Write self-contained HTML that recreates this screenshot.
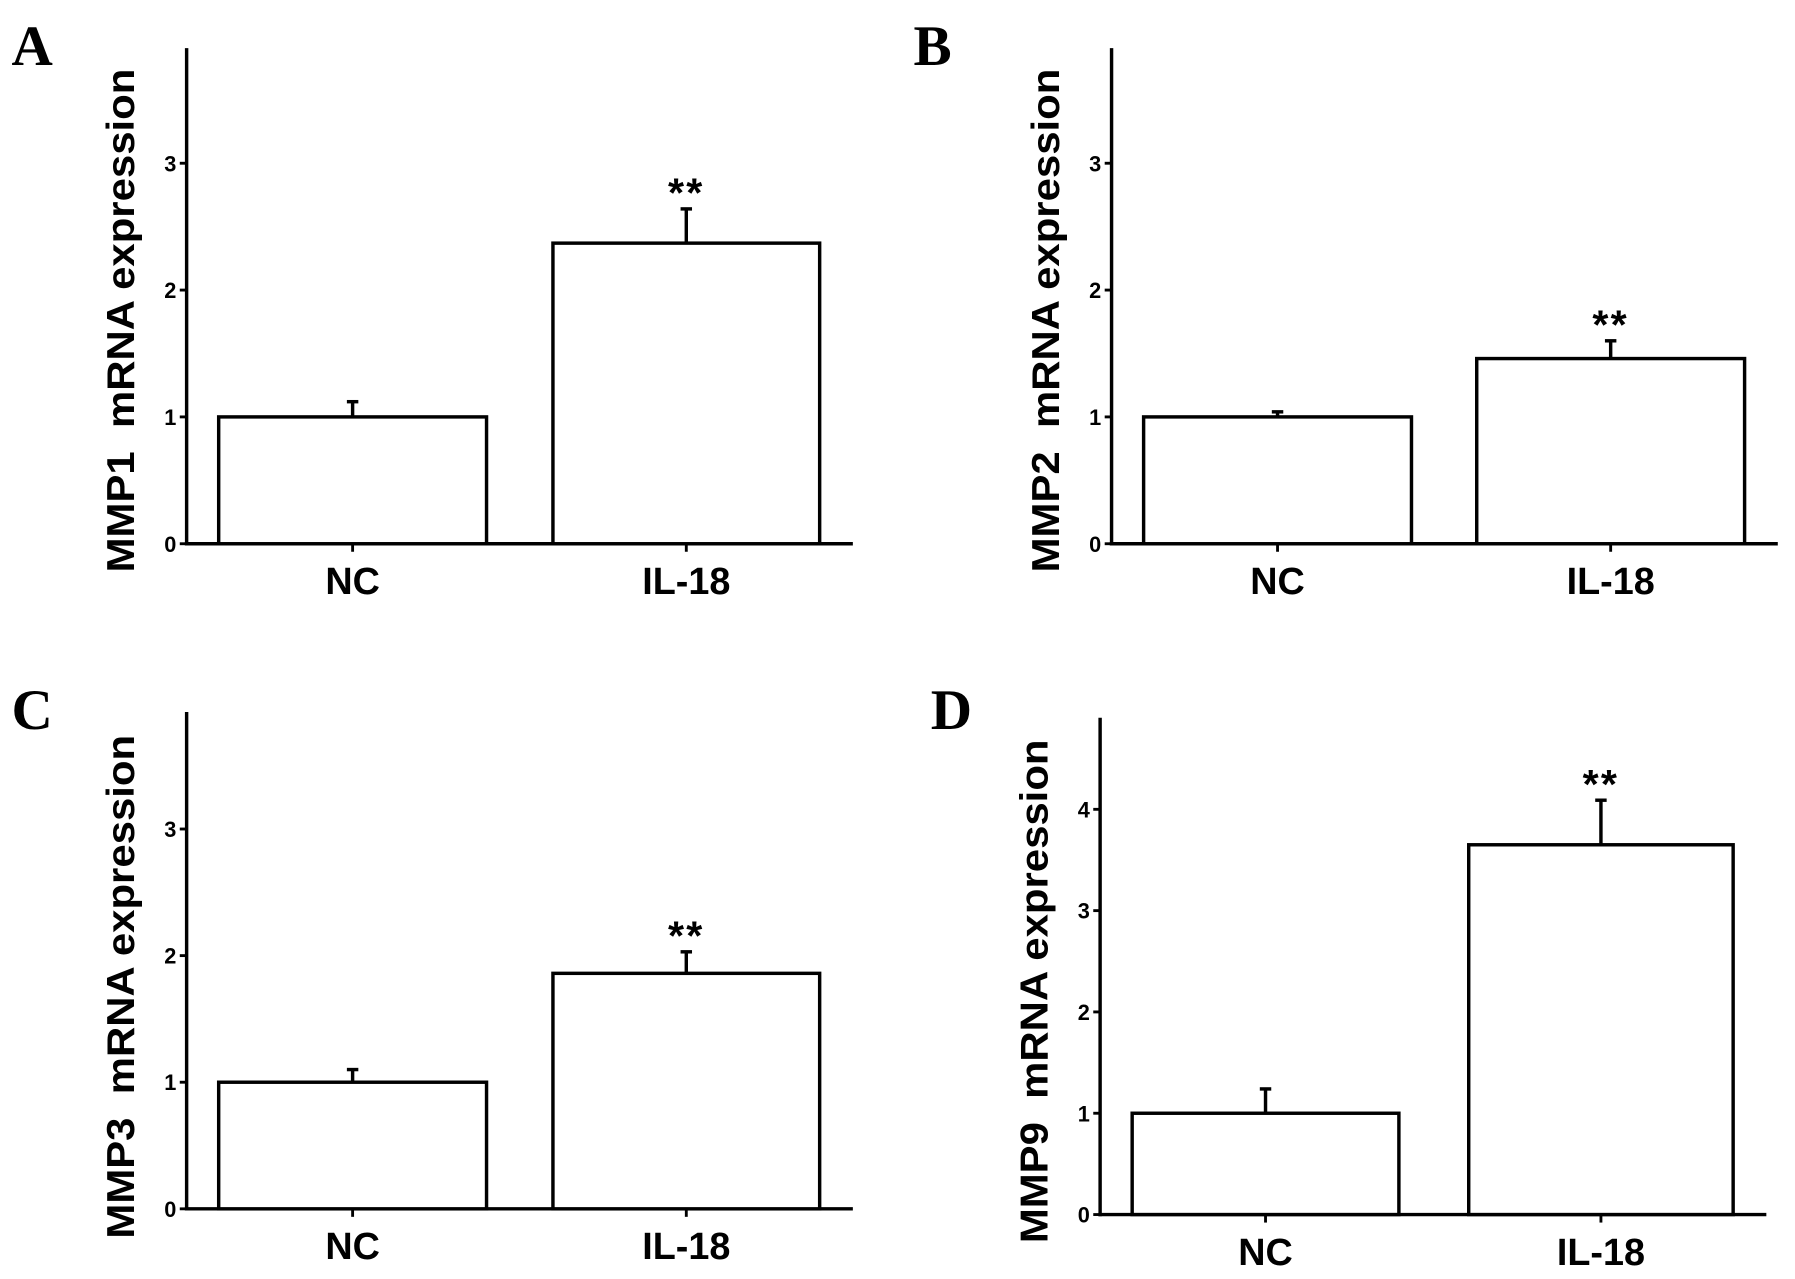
<!DOCTYPE html>
<html><head><meta charset="utf-8"><style>html,body{margin:0;padding:0;background:#fff}svg{display:block}</style></head>
<body>
<svg id="fig" width="1795" height="1279" viewBox="0 0 1568 1117.3" xmlns="http://www.w3.org/2000/svg"></svg>
<script>
const categories = ["NC", "IL-18"];
const panelLetters = ["A", "B", "C", "D"];
const genes = ["MMP1", "MMP2", "MMP3", "MMP9"];
const meanA = [1.0, 2.37];
const errA = [0.12, 0.27];
const meanB = [1.0, 1.46];
const errB = [0.04, 0.14];
const meanC = [1.0, 1.86];
const errC = [0.10, 0.17];
const meanD = [1.0, 3.65];
const errD = [0.24, 0.44];
const ticksABC = [0, 1, 2, 3];
const ticksD = [0, 1, 2, 3, 4];
const sigLabels = ["", "**"];

const NS = "http://www.w3.org/2000/svg";
const svg = document.getElementById("fig");
function mk(tag, attrs, parent) {
  const e = document.createElementNS(NS, tag);
  for (const k in attrs) e.setAttribute(k, attrs[k]);
  (parent || svg).appendChild(e);
  return e;
}
const FONT = '"Liberation Sans", Arial, sans-serif';
const layouts = [
  {ax: 163, top: 42, y0: 475, unit: 110.8, xEnd: 745, bars: [[191, 425], [483, 716]], lx: 10, ly: 57, mean: meanA, err: errA, ticks: ticksABC, tc: 280},
  {ax: 971, top: 42, y0: 475, unit: 110.8, xEnd: 1553, bars: [[999, 1233], [1290, 1524]], lx: 798, ly: 57, mean: meanB, err: errB, ticks: ticksABC, tc: 280},
  {ax: 163, top: 622, y0: 1056, unit: 110.6, xEnd: 745, bars: [[191, 425], [483, 716]], lx: 10, ly: 637, mean: meanC, err: errC, ticks: ticksABC, tc: 862},
  {ax: 961, top: 627, y0: 1061, unit: 88.5, xEnd: 1543, bars: [[989, 1222], [1283, 1514]], lx: 813, ly: 637, mean: meanD, err: errD, ticks: ticksD, tc: 866}
];
layouts.forEach((L, p) => {
  const g = mk("g", {});
  
  
  const yS = v => L.y0 - v * L.unit;
  const letter = mk("text", {x: L.lx, y: L.ly, "font-family": '"Liberation Serif", serif', "font-weight": "bold", "font-size": 50}, g);
  letter.textContent = panelLetters[p];
  
  
  const yl = mk("line", {x1: L.ax, y1: L.top, x2: L.ax, y2: L.y0 + 1.5, stroke: "#000", "stroke-width": 3}, g);
  
  
  const xl = mk("line", {x1: L.ax - 1.5, y1: L.y0, x2: L.xEnd, y2: L.y0, stroke: "#000", "stroke-width": 3}, g);
  
  
  L.ticks.forEach(t => {
    const tk = mk("line", {x1: L.ax - 6, y1: yS(t), x2: L.ax, y2: yS(t), stroke: "#000", "stroke-width": 2.5}, g);
    
    
    const tl = mk("text", {x: L.ax - 9, y: yS(t) + 7, "text-anchor": "end", "font-family": FONT, "font-weight": "bold", "font-size": 19}, g);
    tl.textContent = t;
    
    
  });
  const yt = mk("text", {x: 0, y: 0, transform: `translate(${L.ax - 46},${L.tc}) rotate(-90)`, "text-anchor": "middle", "font-family": FONT, "font-weight": "bold", "font-size": 34, textLength: 440, lengthAdjust: "spacingAndGlyphs"}, g);
  yt.textContent = genes[p] + "\u00a0 mRNA expression";
  
  
  categories.forEach((c, i) => {
    const [x1, x2] = L.bars[i];
    const cx = (x1 + x2) / 2;
    const v = L.mean[i], e = L.err[i];
    const ew = mk("line", {x1: cx, y1: yS(v), x2: cx, y2: yS(v + e), stroke: "#000", "stroke-width": 3}, g);
    
    
    const ec = mk("line", {x1: cx - 5, y1: yS(v + e), x2: cx + 5, y2: yS(v + e), stroke: "#000", "stroke-width": 3}, g);
    
    
    const r = mk("rect", {x: x1, y: yS(v), width: x2 - x1, height: L.y0 - yS(v), fill: "#fff", stroke: "#000", "stroke-width": 3}, g);
    
    
    const tk = mk("line", {x1: cx, y1: L.y0, x2: cx, y2: L.y0 + 7, stroke: "#000", "stroke-width": 2.5}, g);
    
    
    const cl = mk("text", {x: cx, y: L.y0 + 44, "text-anchor": "middle", "font-family": FONT, "font-weight": "bold", "font-size": 33}, g);
    cl.textContent = c;
    
    
    if (sigLabels[i]) {
      const s = mk("text", {x: cx, y: yS(v + e) - 2, "text-anchor": "middle", "font-family": FONT, "font-weight": "bold", "font-size": 36, "letter-spacing": 2}, g);
      s.textContent = sigLabels[i];
      
      
    }
  });
});
</script>
</body></html>
